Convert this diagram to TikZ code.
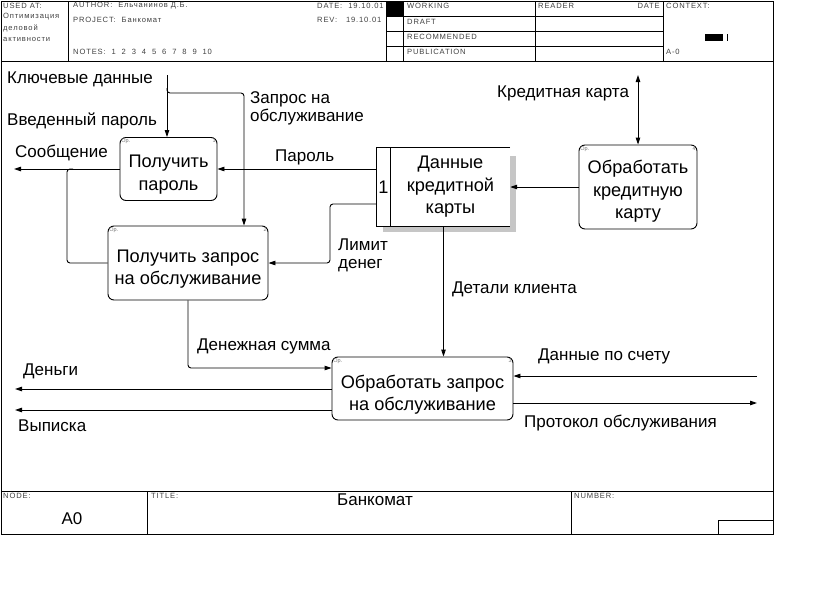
\documentclass[tikz,border=0pt]{standalone}
\usepackage{fontspec}
\setmainfont{Liberation Sans}
\newfontfamily\hdrfont[LetterSpace=11]{Liberation Sans}
\usetikzlibrary{arrows.meta,positioning,calc}
\tikzset{
  >={Triangle[length=7pt,width=4.5pt]},
  frame/.style={line width=0.9pt},
  proc/.style={draw,line width=0.9pt,rounded corners=6pt,inner sep=0pt},
  proctext/.style={font=\fontsize{18.2}{22.5}\selectfont,align=center,inner sep=0pt},
  flow/.style={->,line width=0.9pt,rounded corners=3pt},
  lbl/.style={font=\fontsize{17}{19}\selectfont,inner sep=0pt,anchor=base west},
  hdr/.style={font=\hdrfont\fontsize{7.6}{8}\selectfont,text=black!75,inner sep=0pt,anchor=west},
  opmark/.style={font=\fontsize{5.5}{6}\selectfont,text=black!55,inner sep=1.5pt},
}

\begin{document}
\begin{tikzpicture}[x=1pt,y=-1pt]
\useasboundingbox (0,0) rectangle (823,608);

% frame, header and footer
\draw[frame] (1,1) rectangle (773,534);
\draw[frame] (1,61) -- (773,61);
\draw[frame] (68,1) -- (68,61);
\draw[frame] (386,1) -- (386,61);
\fill (387,1) rectangle (403,16);
\draw (403,1) -- (403,61);
\draw (535,1) -- (535,61);
\draw (663,1) -- (663,61);
\draw (386,16) -- (663,16);
\draw (386,31) -- (663,31);
\draw (386,46) -- (663,46);
\fill (705,34) rectangle (723,41);
\draw (727,34) -- (727,41);
\draw[frame] (1,491) -- (773,491);
\draw[frame] (147,491) -- (147,534);
\draw[frame] (571,491) -- (571,534);
\draw (718,520) rectangle (773,534);

\node[hdr] (usedat) at (3,6) {USED AT:};
\node[hdr] (used1) at (3,17) {Оптимизация};
\node[hdr] (used2) at (3,28.5) {деловой};
\node[hdr] (used3) at (3,39.5) {активности};
\node[hdr] (author) at (73,6) {AUTHOR:\ \ Ельчанинов Д.Б.};
\node[hdr] (project) at (73,20) {PROJECT:\ \ Банкомат};
\node[hdr] (notes) at (73,52) {NOTES:\ \ 1\ \ 2\ \ 3\ \ 4\ \ 5\ \ 6\ \ 7\ \ 8\ \ 9\ \ 10};
\node[hdr] (date) at (317,6) {DATE:\ \ 19.10.01};
\node[hdr] (rev) at (317,20) {REV:\ \ \ 19.10.01};
\node[hdr] (working) at (407,6) {WORKING};
\node[hdr] (draft) at (407,22) {DRAFT};
\node[hdr] (recomm) at (407,37) {RECOMMENDED};
\node[hdr] (public) at (407,52) {PUBLICATION};
\node[hdr] (reader) at (538,6) {READER};
\node[hdr,anchor=east] (rdate) at (660,6) {DATE};
\node[hdr] (context) at (666,6) {CONTEXT:};
\node[hdr] (ctxnode) at (666,52) {A-0};
\node[hdr] (nodettl) at (3,496) {NODE:};
\node[hdr] (titlettl) at (151,496) {TITLE:};
\node[hdr] (numttl) at (574,496) {NUMBER:};
\node[font=\fontsize{17}{19}\selectfont] (nodeval) at (72,519) {A0};
\node[font=\fontsize{17}{19}\selectfont] (titleval) at (375,500) {Банкомат};

% activity boxes
\node[proc,minimum width=97,minimum height=63] (get1) at (168.5,169) {};
\node[proc,minimum width=160,minimum height=74] (get2) at (188,263) {};
\node[proc,minimum width=181,minimum height=63] (proc3) at (422.5,388.5) {};
\node[proc,minimum width=118,minimum height=84] (proc4) at (638,187) {};
\node[proctext] (get1txt) at ([yshift=-5.5pt]get1.center) {Получить\\пароль};
\node[proctext] (get2txt) at ([yshift=-6pt]get2.center) {Получить запрос\\на обслуживание};
\node[proctext] (proc3txt) at ([yshift=-6pt]proc3.center) {Обработать запрос\\на обслуживание};
\node[proctext] (proc4txt) at ([yshift=-4.5pt]proc4.center) {Обработать\\кредитную\\карту};
\foreach \b/\n in {get1/1,get2/2,proc3/3,proc4/4}{
  \node[opmark,anchor=north west] (\b op) at (\b.north west) {Ор.};
  \node[opmark,anchor=north east] (\b num) at (\b.north east) {\n};
}

% data store
\node[minimum width=133,minimum height=78,inner sep=0pt] (store) at (443.5,187) {};
\fill[gray!45] ([shift={(6pt,-8pt)}]store.north east) rectangle ([shift={(6pt,-6pt)}]store.south west);
\fill[white] (store.north west) rectangle (store.south east);
\draw[line width=0.9pt] (store.north east) -- (store.north west) -- (store.south west) -- (store.south east);
\draw[line width=0.9pt] ([xshift=14pt]store.north west) -- ([xshift=14pt]store.south west);
\node[proctext] (storetxt) at (450.5,187) {Данные\\кредитной\\карты};
\node[proctext] (storeid) at (383.5,187) {1};

% free ends
\coordinate (keyin) at (167,75);
\coordinate (keysplit) at (167,88);
\coordinate (reqturn) at (244,93);
\coordinate (msgout) at (14,169);
\coordinate (msgjoin) at (67,169);
\coordinate (limturn) at (330,204);
\coordinate (cardio) at (638,75);
\coordinate (moneyout) at (15,389);
\coordinate (stmtout) at (15,410);
\coordinate (acctin) at (757,376);
\coordinate (protout) at (757,403);

% connectors
\draw[flow] (keyin) -- (keyin |- get1.north);
\draw[flow] (keysplit) |- (reqturn) -- (reqturn |- get2.north);
\draw[flow] (get1.west) -- (msgout |- get1.west);
\draw[line width=0.9pt,rounded corners=3pt] (get2.west) -| (msgjoin) -- ([xshift=6pt]msgjoin);
\draw[flow] (store.west |- get1.east) -- (get1.east);
\draw[flow] (store.west |- limturn) -- (limturn) |- (get2.east);
\draw[<->,line width=0.9pt] (cardio) -- (cardio |- proc4.north);
\draw[flow] (proc4.west) -- (store.east |- proc4.west);
\draw[flow] (store.south) -- (store.south |- proc3.north);
\draw[flow] (get2.south) |- (proc3.west |- 0,368);
\draw[flow] (proc3.west |- moneyout) -- (moneyout);
\draw[flow] (proc3.west |- stmtout) -- (stmtout);
\draw[flow] (acctin) -- (proc3.east |- acctin);
\draw[flow] (proc3.east |- protout) -- (protout);

% arrow labels
\node[lbl] (lkey) at (7,83) {Ключевые данные};
\node[lbl] (lpin) at (7,125) {Введенный пароль};
\node[lbl] (lreq) at (250,103) {Запрос на};
\node[lbl] (lreq2) at (250,121) {обслуживание};
\node[lbl] (lmsg) at (15,157) {Сообщение};
\node[lbl] (lpass) at (275,161) {Пароль};
\node[lbl] (llim) at (338,250) {Лимит};
\node[lbl] (llim2) at (338,268) {денег};
\node[lbl] (lcard) at (497,97.5) {Кредитная карта};
\node[lbl] (lclient) at (452,293.5) {Детали клиента};
\node[lbl] (lsum) at (197,350) {Денежная сумма};
\node[lbl] (lmoney) at (23,375) {Деньги};
\node[lbl] (lstmt) at (18,431) {Выписка};
\node[lbl] (lacct) at (538,360) {Данные по счету};
\node[lbl] (lprot) at (524,427) {Протокол обслуживания};

\end{tikzpicture}
\end{document}
